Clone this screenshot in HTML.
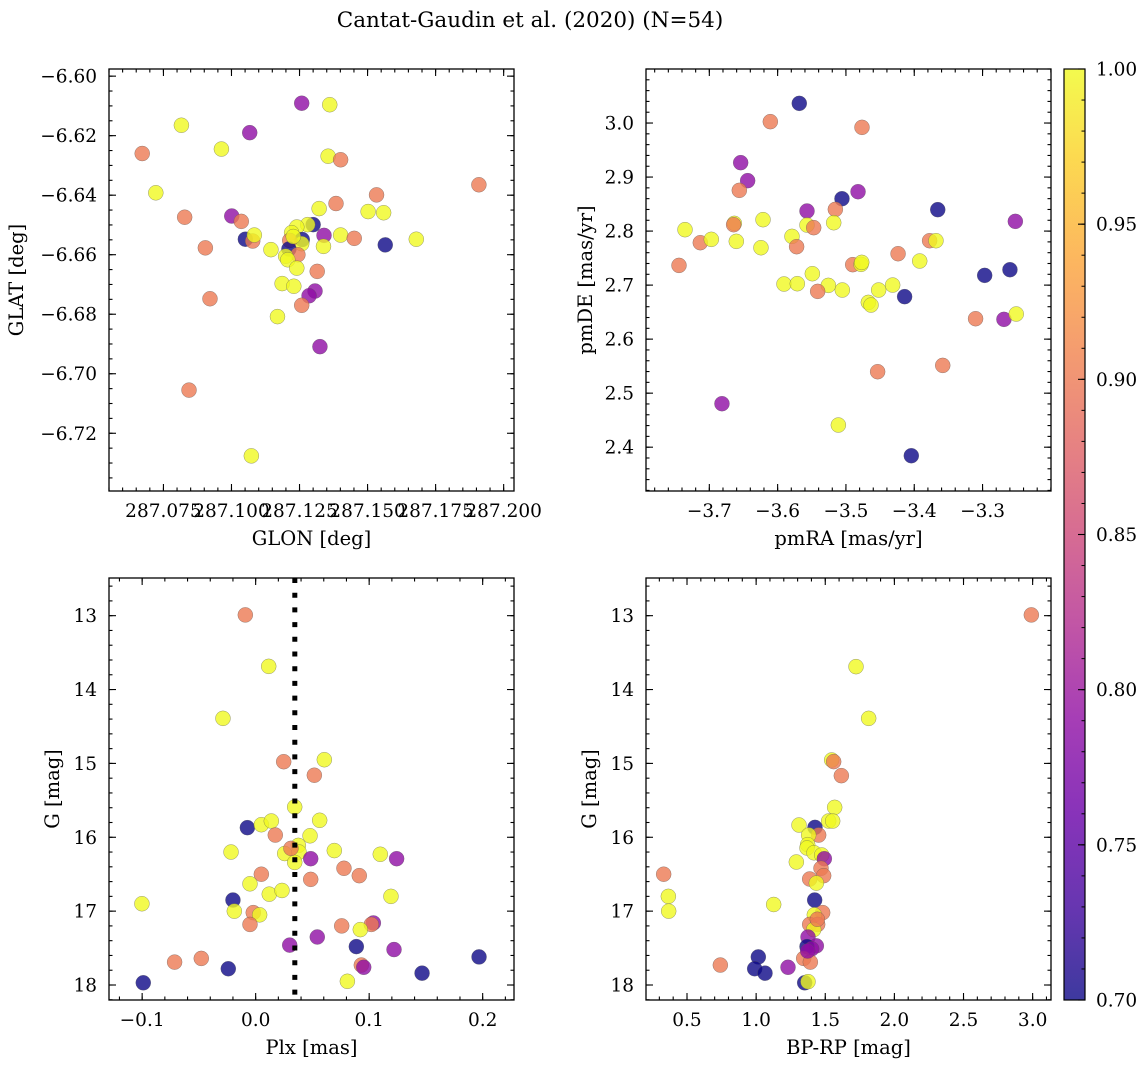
<!DOCTYPE html>
<html><head><meta charset="utf-8"><style>
html,body{margin:0;padding:0;background:#fff;}
svg text{font-family:"DejaVu Serif","Liberation Serif",serif;fill:#000;}
</style></head><body>
<svg id="fig" width="1148" height="1068" xmlns="http://www.w3.org/2000/svg">
<defs>
<linearGradient id="plasma" x1="0" y1="1" x2="0" y2="0">
<stop offset="0" stop-color="#0d0887"/><stop offset="0.1" stop-color="#41049d"/><stop offset="0.2" stop-color="#6a00a8"/><stop offset="0.3" stop-color="#8f0da4"/><stop offset="0.4" stop-color="#b12a90"/><stop offset="0.5" stop-color="#cc4778"/><stop offset="0.6" stop-color="#e16462"/><stop offset="0.7" stop-color="#f2844b"/><stop offset="0.8" stop-color="#fca636"/><stop offset="0.9" stop-color="#fcce25"/><stop offset="1" stop-color="#f0f921"/>
</linearGradient>
</defs>
<text x="530" y="27" font-size="21.5" text-anchor="middle">Cantat-Gaudin et al. (2020) (N=54)</text>
</svg>
<script>
// ---- Data: sky position panel ----
const skyGlon=[287.1258,287.1361,287.0816,287.1067,287.0672,287.0963,287.1355,287.1401,287.1909,287.0722,287.1533,287.1384,287.1322,287.1502,287.1559,287.0828,287.1001,287.1036,287.1300,287.1280,287.1240,287.1221,287.1340,287.1401,287.1451,287.1679,287.1565,287.1051,287.1078,287.1084,287.1260,287.1258,287.1214,287.1211,287.1244,287.1145,287.1199,287.1207,287.1338,287.0904,287.1240,287.1315,287.1186,287.1229,287.1307,287.1285,287.0921,287.1258,287.1169,287.1325,287.0844,287.1073,287.1227];
const skyGlat=[-6.6091,-6.6096,-6.6165,-6.6190,-6.6260,-6.6245,-6.6269,-6.6281,-6.6365,-6.6392,-6.6399,-6.6428,-6.6445,-6.6455,-6.6459,-6.6474,-6.6470,-6.6488,-6.6499,-6.6499,-6.6507,-6.6526,-6.6535,-6.6534,-6.6545,-6.6548,-6.6567,-6.6548,-6.6554,-6.6534,-6.6549,-6.6563,-6.6552,-6.6581,-6.6600,-6.6583,-6.6605,-6.6617,-6.6572,-6.6577,-6.6645,-6.6656,-6.6697,-6.6706,-6.6722,-6.6738,-6.6748,-6.6770,-6.6808,-6.6909,-6.7055,-6.7276,-6.6539];
const skyProb=[0.79,1,1,0.79,0.9,1,1,0.9,0.9,1,0.9,0.9,1,1,1,0.9,0.79,0.9,0.7,1,1,1,0.79,1,0.9,1,0.7,0.7,0.9,1,0.7,1,0.9,0.7,0.9,1,1,1,1,0.9,1,0.9,1,1,0.79,0.79,0.9,0.9,1,0.79,0.9,1,1];
// ---- Data: proper motion panel ----
const pmRA=[-3.5683,-3.6107,-3.4765,-3.6541,-3.6439,-3.6561,-3.4823,-3.5058,-3.3656,-3.5155,-3.5570,-3.2520,-3.7356,-3.6634,-3.6644,-3.6214,-3.5570,-3.5472,-3.5179,-3.7132,-3.6971,-3.6605,-3.6244,-3.5790,-3.5722,-3.3775,-3.3682,-3.7444,-3.4237,-3.3920,-3.4901,-3.4779,-3.4769,-3.2969,-3.2599,-3.5907,-3.5712,-3.5492,-3.5258,-3.5414,-3.5053,-3.4521,-3.4316,-3.4141,-3.4672,-3.4633,-3.3102,-3.2687,-3.2507,-3.3583,-3.4536,-3.6815,-3.5111,-3.4043];
const pmDE=[3.0364,3.0025,2.9920,2.9266,2.8933,2.8754,2.8729,2.8599,2.8396,2.8402,2.8371,2.8180,2.8026,2.8143,2.8118,2.8211,2.8112,2.8063,2.8155,2.7785,2.7847,2.7810,2.7692,2.7902,2.7711,2.7822,2.7822,2.7365,2.7581,2.7446,2.7378,2.7384,2.7421,2.7180,2.7285,2.7020,2.7026,2.7211,2.6995,2.6884,2.6909,2.6909,2.7001,2.6786,2.6680,2.6631,2.6378,2.6366,2.6465,2.5514,2.5397,2.4805,2.4410,2.3842];
const pmProb=[0.7,0.9,0.9,0.79,0.79,0.9,0.79,0.7,0.7,0.9,0.79,0.79,1,1,0.9,1,1,0.9,1,0.9,1,1,1,1,0.9,0.9,1,0.9,0.9,1,0.9,1,1,0.7,0.7,1,1,1,1,0.9,1,1,1,0.7,1,1,0.9,0.79,1,0.9,0.9,0.79,1,0.7];
// ---- Data: parallax vs G panel ----
const plx=[-0.0091,0.0115,-0.0288,0.0247,0.0605,0.0517,0.0344,-0.0073,0.0050,0.0138,0.0564,0.0173,0.0479,-0.0217,0.0256,0.0376,0.0382,0.0344,0.0485,0.0311,0.0693,0.1098,0.1242,0.0778,0.0913,0.0485,0.0050,-0.0050,0.0120,0.0232,0.1192,-0.1002,-0.0200,-0.0188,-0.0021,0.0035,-0.0050,0.0758,0.1037,0.1019,0.0922,0.0543,0.0300,0.0887,0.1219,-0.0714,-0.0479,-0.0241,0.0931,0.0952,0.1968,0.1466,-0.0990,0.0808];
const plxG=[12.99,13.686,14.39,14.977,14.95,15.16,15.59,15.87,15.83,15.78,15.77,15.97,15.98,16.20,16.22,16.11,16.20,16.34,16.29,16.15,16.18,16.23,16.29,16.42,16.52,16.57,16.50,16.63,16.77,16.72,16.80,16.90,16.85,17.00,17.02,17.05,17.18,17.20,17.16,17.18,17.25,17.35,17.46,17.48,17.52,17.69,17.64,17.78,17.73,17.76,17.62,17.84,17.97,17.95];
const plxProb=[0.9,1,1,0.9,1,0.9,1,0.7,1,1,1,0.9,1,1,1,1,1,1,0.79,0.9,1,1,0.79,0.9,0.9,0.9,0.9,1,1,1,1,1,0.7,1,0.9,1,0.9,0.9,0.79,0.9,1,0.79,0.79,0.7,0.79,0.9,0.9,0.7,0.9,0.79,0.7,0.7,0.7,1];
const clusterPlx=[0.0345];
// ---- Data: colour-magnitude panel ----
const bprp=[2.9906,1.7224,1.8140,1.5464,1.5608,1.6163,1.5681,1.5247,1.5536,1.3101,1.4258,1.4523,1.3800,1.3728,1.3680,1.4186,1.4741,1.4934,1.2908,1.4692,1.4885,1.3873,1.4355,0.3312,0.3650,0.3674,1.1269,1.4234,1.4813,1.4210,1.3873,1.4451,1.4162,1.3752,1.4355,1.3680,1.4017,1.3439,1.3921,1.0159,0.9894,1.0642,0.7411,1.2305,1.3511,1.3752,1.3728,1.4427];
const cmdG=[12.99,13.69,14.39,14.954,14.976,15.166,15.595,15.78,15.78,15.834,15.866,15.97,15.97,16.10,16.145,16.21,16.24,16.29,16.335,16.42,16.52,16.565,16.62,16.50,16.80,17.00,16.91,16.85,17.02,17.05,17.18,17.18,17.25,17.35,17.47,17.48,17.51,17.64,17.69,17.62,17.78,17.84,17.73,17.76,17.97,17.955,17.54,17.11];
const cmdProb=[0.9,1,1,1,0.9,0.9,1,1,1,1,0.7,0.9,1,1,1,1,1,0.79,1,0.9,0.9,0.9,1,0.9,1,1,1,0.7,0.9,1,0.9,0.9,1,0.79,0.79,0.7,0.79,0.9,0.9,0.7,0.7,0.7,0.9,0.79,0.7,1,0.79,0.9];
// ---- Colorbar ticks ----
const cbTicks=[0.70,0.75,0.80,0.85,0.90,0.95,1.00];

const NS='http://www.w3.org/2000/svg';
const svg=document.getElementById('fig');
const TFS=18.5, LFS=19.5;
const stops=[[0,'#0d0887'],[0.1,'#41049d'],[0.2,'#6a00a8'],[0.3,'#8f0da4'],[0.4,'#b12a90'],[0.5,'#cc4778'],[0.6,'#e16462'],[0.7,'#f2844b'],[0.8,'#fca636'],[0.9,'#fcce25'],[1,'#f0f921']];
function hex(h){return [1,3,5].map(i=>parseInt(h.substr(i,2),16));}
function plasma(p){let t=Math.max(0,Math.min(1,(p-0.7)/0.3));for(let i=1;i<stops.length;i++){if(t<=stops[i][0]){const a=stops[i-1],b=stops[i];const f=(t-a[0])/(b[0]-a[0]);const ca=hex(a[1]),cb=hex(b[1]);return 'rgb('+ca.map((v,k)=>Math.round(v+(cb[k]-v)*f)).join(',')+')';}}return stops[10][1];}
function el(tag,attrs,parent){const e=document.createElementNS(NS,tag);for(const k in attrs)e.setAttribute(k,attrs[k]);(parent||svg).appendChild(e);return e;}
function fmt(v,d){const s=Math.abs(v).toFixed(d);return (v<-1e-9?'\u2212':'')+s;}

function panel(cfg){
  const g=el('g',{});
  
  
  const L=cfg.left,T=cfg.top,W=405,H=422;
  const sx=v=>L+(v-cfg.xlim[0])/(cfg.xlim[1]-cfg.xlim[0])*W;
  const sy=cfg.invert?(v=>T+(v-cfg.ylim[0])/(cfg.ylim[1]-cfg.ylim[0])*H):(v=>T+H-(v-cfg.ylim[0])/(cfg.ylim[1]-cfg.ylim[0])*H);
  for(let i=0;i<cfg.xs.length;i++){
    const c=el('circle',{cx:sx(cfg.xs[i]),cy:sy(cfg.ys[i]),r:7.5,fill:plasma(cfg.ps[i]),'fill-opacity':0.8,stroke:'#555','stroke-width':0.5,'stroke-opacity':0.6},g);
    
    
  }
  if(cfg.vline){const x=sx(cfg.vline[0]);const ln=el('line',{x1:x,x2:x,y1:T,y2:T+H,stroke:'#000','stroke-width':5,'stroke-dasharray':'5 9.7'},g);
    
    }
  const fr=el('rect',{x:L,y:T,width:W,height:H,fill:'none',stroke:'#000','stroke-width':1.3},g);
  
  
  const tk=el('g',{stroke:'#000','stroke-width':1.1},g);
  const eps=1e-9;
  for(let v=cfg.xmin0;v<=cfg.xlim[1]+eps;v+=cfg.xminor){if(v<cfg.xlim[0])continue;const x=sx(v);el('line',{x1:x,x2:x,y1:T+H,y2:T+H-3.5},tk);el('line',{x1:x,x2:x,y1:T,y2:T+3.5},tk);}
  for(let v=cfg.ymin0;v<=Math.max(cfg.ylim[0],cfg.ylim[1])+eps;v+=cfg.yminor){if(v<Math.min(cfg.ylim[0],cfg.ylim[1]))continue;const y=sy(v);el('line',{x1:L,x2:L+3.5,y1:y,y2:y},tk);el('line',{x1:L+W,x2:L+W-3.5,y1:y,y2:y},tk);}
  cfg.xt.forEach(v=>{const x=sx(v);el('line',{x1:x,x2:x,y1:T+H,y2:T+H-7},tk);el('line',{x1:x,x2:x,y1:T,y2:T+7},tk);
    const t=el('text',{x:x,y:T+H+26,'font-size':TFS,'text-anchor':'middle'},g);t.textContent=fmt(v,cfg.xd);
    
    });
  cfg.yt.forEach(v=>{const y=sy(v);el('line',{x1:L,x2:L+7,y1:y,y2:y},tk);el('line',{x1:L+W,x2:L+W-7,y1:y,y2:y},tk);
    const t=el('text',{x:L-12,y:y+6.5,'font-size':TFS,'text-anchor':'end'},g);t.textContent=fmt(v,cfg.yd);
    
    });
  const xl=el('text',{x:L+W/2,y:T+H+54,'font-size':LFS,'text-anchor':'middle'},g);xl.textContent=cfg.xlabel;
  
  
  const yx=cfg.ylabx,yy=T+H/2;
  const yl=el('text',{x:yx,y:yy,'font-size':LFS,'text-anchor':'middle',transform:'rotate(-90 '+yx+' '+yy+')'},g);yl.textContent=cfg.ylabel;
  
  
}
function rng(a,b,s){const r=[];for(let v=a;v<=b+s*1e-6;v+=s)r.push(Math.round(v/s)*s);return r;}

panel({name:'sky-position-panel',left:109,top:69,xs:skyGlon,ys:skyGlat,ps:skyProb,xlim:[287.0550,287.2038],ylim:[-6.7394,-6.5976],
  xt:rng(287.075,287.2,0.025),xd:3,xmin0:287.055,xminor:0.005,yt:rng(-6.72,-6.60,0.02),yd:2,ymin0:-6.735,yminor:0.005,xlabel:'GLON [deg]',ylabel:'GLAT [deg]',ylabx:23});
panel({name:'proper-motion-panel',left:646,top:69,xs:pmRA,ys:pmDE,ps:pmProb,xlim:[-3.7927,-3.1998],ylim:[2.3189,3.1],
  xt:rng(-3.7,-3.3,0.1),xd:1,xmin0:-3.78,xminor:0.02,yt:rng(2.4,3.0,0.1),yd:1,ymin0:2.32,yminor:0.02,xlabel:'pmRA [mas/yr]',ylabel:'pmDE [mas/yr]',ylabx:592});
panel({name:'parallax-magnitude-panel',left:109,top:578,xs:plx,ys:plxG,ps:plxProb,xlim:[-0.1292,0.2276],ylim:[12.49,18.203],invert:true,vline:clusterPlx,
  xt:rng(-0.1,0.2,0.1),xd:1,xmin0:-0.12,xminor:0.02,yt:rng(13,18,1),yd:0,ymin0:12.6,yminor:0.2,xlabel:'Plx [mas]',ylabel:'G [mag]',ylabx:59});
panel({name:'color-magnitude-panel',left:646,top:578,xs:bprp,ys:cmdG,ps:cmdProb,xlim:[0.2034,3.1328],ylim:[12.49,18.203],invert:true,
  xt:rng(0.5,3.0,0.5),xd:1,xmin0:0.3,xminor:0.1,yt:rng(13,18,1),yd:0,ymin0:12.6,yminor:0.2,xlabel:'BP-RP [mag]',ylabel:'G [mag]',ylabx:596});

const cb=el('g',{});


const CT=69,CB=1000,CL=1064,CW=21;
el('rect',{x:CL,y:CT,width:CW,height:CB-CT,fill:'url(#plasma)','fill-opacity':0.8},cb);
el('rect',{x:CL,y:CT,width:CW,height:CB-CT,fill:'none',stroke:'#000','stroke-width':1.2},cb);
const cy=v=>CB-(v-0.7)/0.3*(CB-CT);
for(let i=0;i<=30;i++){const v=0.7+i*0.01;const y=cy(v);el('line',{x1:CL+CW,x2:CL+CW-3.5,y1:y,y2:y,stroke:'#000','stroke-width':1},cb);}
cbTicks.forEach(v=>{const y=cy(v);el('line',{x1:CL+CW,x2:CL+CW-7,y1:y,y2:y,stroke:'#000','stroke-width':1.1},cb);
  const t=el('text',{x:1096,y:y+6.5,'font-size':TFS},cb);t.textContent=v.toFixed(2);
  
  });
</script>
</body></html>
